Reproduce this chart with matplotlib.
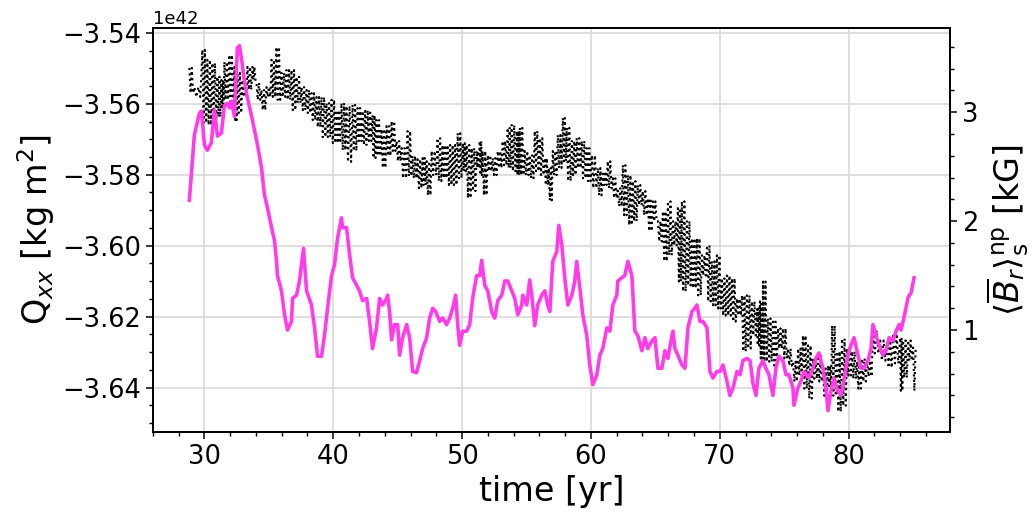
import numpy as np
import matplotlib
matplotlib.use("Agg")
import matplotlib.pyplot as plt
from matplotlib.ticker import MultipleLocator

# ---- magenta series: <B_r>_s^np [kG] vs time [yr] ----
b_t = [28.83, 29.22, 29.61, 29.77, 30.00, 30.23, 30.54, 30.78, 31.01, 31.32, 31.55, 31.79, 31.94, 32.10,
       32.33, 32.56, 32.72, 32.87, 33.11, 33.34, 33.65, 33.89, 34.12, 34.43, 34.66, 34.90, 35.21, 35.44,
       35.60, 35.67, 35.98, 36.22, 36.45, 36.76, 36.84, 37.15, 37.38, 37.69, 37.93, 38.31, 38.55, 38.78,
       39.09, 39.32, 39.56, 39.87, 40.10, 40.33, 40.49, 40.64, 40.72, 41.03, 41.27, 41.50, 41.81, 42.04,
       42.28, 42.59, 42.82, 43.05, 43.36, 43.60, 43.83, 44.14, 44.22, 44.37, 44.53, 44.76, 45.00, 45.15,
       45.38, 45.70, 45.93, 46.16, 46.47, 46.71, 46.94, 47.25, 47.48, 47.72, 47.95, 48.26, 48.49, 48.80,
       49.04, 49.27, 49.50, 49.66, 49.81, 50.05, 50.36, 50.59, 50.82, 51.13, 51.37, 51.52, 51.76, 51.99,
       52.30, 52.53, 52.77, 53.08, 53.31, 53.55, 53.86, 54.09, 54.32, 54.63, 54.71, 55.02, 55.25, 55.41,
       55.64, 55.87, 56.18, 56.42, 56.65, 56.81, 57.04, 57.35, 57.51, 57.74, 57.97, 58.21, 58.52, 58.75,
       58.90, 59.14, 59.37, 59.68, 59.91, 60.15, 60.46, 60.69, 60.92, 61.24, 61.47, 61.70, 62.01, 62.09,
       62.40, 62.63, 62.87, 63.18, 63.41, 63.64, 63.96, 64.19, 64.42, 64.73, 64.97, 65.20, 65.51, 65.74,
       65.98, 66.29, 66.37, 66.52, 66.75, 67.06, 67.30, 67.53, 67.84, 68.07, 68.23, 68.46, 68.69, 69.01,
       69.24, 69.47, 69.78, 70.02, 70.25, 70.56, 70.79, 71.03, 71.34, 71.57, 71.80, 72.11, 72.35, 72.58,
       72.81, 73.04, 73.35, 73.58, 73.82, 74.13, 74.36, 74.59, 74.90, 75.14, 75.37, 75.68, 75.76, 76.07,
       76.30, 76.53, 76.92, 77.23, 77.46, 77.70, 78.01, 78.24, 78.40, 78.63, 78.86, 79.17, 79.41, 79.64,
       79.95, 80.18, 80.42, 80.73, 80.96, 81.19, 81.51, 81.74, 81.89, 82.13, 82.36, 82.67, 82.91, 83.14,
       83.45, 83.68, 83.92, 84.07, 84.31, 84.62, 84.85, 85.08]
b_val = [2.19, 2.79, 2.99, 3.01, 2.70, 2.65, 2.72, 3.02, 2.78, 2.81, 3.06, 3.08, 3.04, 3.10,
         2.96, 3.59, 3.61, 3.50, 3.28, 3.13, 2.97, 2.83, 2.70, 2.49, 2.24, 2.12, 1.94, 1.82,
         1.63, 1.50, 1.36, 1.14, 1.00, 1.08, 1.29, 1.32, 1.45, 1.75, 1.36, 1.23, 1.02, 0.76,
         0.76, 0.95, 1.20, 1.50, 1.60, 1.84, 1.94, 2.03, 1.94, 1.94, 1.69, 1.48, 1.41, 1.36,
         1.27, 1.29, 1.08, 0.83, 1.02, 1.29, 1.23, 1.29, 1.32, 1.17, 0.91, 1.05, 1.05, 0.77,
         0.93, 1.05, 0.93, 0.62, 0.61, 0.72, 0.83, 0.93, 1.11, 1.20, 1.17, 1.08, 1.11, 1.05,
         1.11, 1.20, 1.32, 1.05, 0.86, 0.99, 0.99, 1.05, 1.29, 1.50, 1.50, 1.64, 1.41, 1.36,
         1.17, 1.11, 1.27, 1.32, 1.45, 1.45, 1.36, 1.29, 1.14, 1.23, 1.32, 1.23, 1.46, 1.32,
         1.04, 1.23, 1.32, 1.36, 1.23, 1.17, 1.63, 1.72, 1.96, 1.78, 1.48, 1.23, 1.32, 1.45,
         1.63, 1.39, 1.14, 0.95, 0.68, 0.50, 0.59, 0.77, 0.83, 1.02, 0.99, 1.23, 1.32, 1.45,
         1.48, 1.50, 1.63, 1.50, 0.99, 0.95, 0.81, 0.93, 0.83, 0.90, 0.93, 0.65, 0.65, 0.81,
         0.74, 0.95, 0.99, 0.83, 0.77, 0.68, 0.65, 1.02, 1.17, 1.20, 1.23, 1.08, 1.08, 1.02,
         0.62, 0.56, 0.62, 0.62, 0.68, 0.53, 0.40, 0.47, 0.62, 0.59, 0.72, 0.74, 0.72, 0.51,
         0.40, 0.65, 0.72, 0.65, 0.59, 0.40, 0.65, 0.76, 0.72, 0.59, 0.59, 0.47, 0.31, 0.47,
         0.53, 0.62, 0.56, 0.65, 0.74, 0.79, 0.65, 0.47, 0.26, 0.44, 0.56, 0.44, 0.40, 0.53,
         0.77, 0.86, 0.93, 0.77, 0.65, 0.65, 0.72, 0.83, 1.05, 0.95, 0.86, 0.77, 0.81, 0.93,
         0.90, 0.99, 1.05, 1.00, 1.12, 1.30, 1.34, 1.48]

# ---- black dotted series: Q_xx [1e42 kg m^2]; fast oscillation read as crest / trough per sample time ----
q_t = [28.83, 29.22, 29.84, 30.23, 30.62, 31.01, 31.32, 31.55, 31.94, 32.33, 32.56, 32.95, 33.34, 33.73,
       34.04, 34.43, 34.82, 35.21, 35.59, 35.98, 36.37, 36.76, 37.15, 37.54, 37.93, 38.31, 38.70, 39.09,
       39.48, 39.87, 40.26, 40.64, 41.03, 41.50, 41.89, 42.28, 42.67, 43.05, 43.36, 43.75, 44.14, 44.53,
       44.92, 45.31, 45.77, 46.16, 46.55, 46.94, 47.25, 47.64, 48.10, 48.49, 48.88, 49.27, 49.66, 50.05,
       50.36, 50.75, 51.13, 51.37, 51.60, 51.99, 52.38, 52.77, 53.15, 53.54, 53.85, 54.24, 54.48, 54.86,
       55.25, 55.64, 56.03, 56.42, 56.73, 57.04, 57.43, 57.82, 58.13, 58.52, 58.90, 59.29, 59.68, 60.07,
       60.54, 60.92, 61.31, 61.70, 62.09, 62.48, 62.87, 63.26, 63.64, 64.03, 64.42, 64.81, 65.20, 65.59,
       65.98, 66.37, 66.75, 67.06, 67.45, 67.84, 68.23, 68.62, 69.01, 69.39, 69.78, 70.17, 70.56, 70.95,
       71.34, 71.73, 72.11, 72.50, 72.89, 73.12, 73.36, 73.74, 74.13, 74.52, 74.91, 75.30, 75.69, 76.08,
       76.46, 76.85, 77.24, 77.63, 78.02, 78.41, 78.72, 79.11, 79.49, 79.88, 80.27, 80.66, 81.05, 81.44,
       81.90, 82.45, 82.99, 83.46, 84.00, 84.23, 84.62, 85.01]
q_hi = [-3.5499, -3.5553, -3.5448, -3.5476, -3.5485, -3.5524, -3.5533, -3.5482, -3.5462, -3.5496, -3.5513, -3.5533, -3.5496, -3.5496,
        -3.5541, -3.5561, -3.5553, -3.5476, -3.5440, -3.5513, -3.5505, -3.5505, -3.5524, -3.5553, -3.5561, -3.5570, -3.5581, -3.5581,
        -3.5598, -3.5589, -3.5618, -3.5598, -3.5606, -3.5603, -3.5612, -3.5620, -3.5618, -3.5632, -3.5646, -3.5671, -3.5663, -3.5649,
        -3.5705, -3.5725, -3.5677, -3.5747, -3.5756, -3.5753, -3.5762, -3.5733, -3.5697, -3.5716, -3.5716, -3.5716, -3.5683, -3.5711,
        -3.5716, -3.5725, -3.5733, -3.5705, -3.5733, -3.5745, -3.5753, -3.5733, -3.5705, -3.5668, -3.5660, -3.5677, -3.5668, -3.5733,
        -3.5745, -3.5677, -3.5697, -3.5753, -3.5781, -3.5733, -3.5688, -3.5640, -3.5668, -3.5705, -3.5697, -3.5705, -3.5725, -3.5745,
        -3.5781, -3.5790, -3.5762, -3.5810, -3.5838, -3.5773, -3.5801, -3.5818, -3.5829, -3.5846, -3.5866, -3.5875, -3.5931, -3.5903,
        -3.5875, -3.5931, -3.5894, -3.5875, -3.5931, -3.5979, -3.5979, -3.6027, -3.5999, -3.6044, -3.6027, -3.6092, -3.6084, -3.6092,
        -3.6149, -3.6140, -3.6140, -3.6157, -3.6177, -3.6157, -3.6101, -3.6205, -3.6214, -3.6233, -3.6233, -3.6290, -3.6327, -3.6290,
        -3.6253, -3.6281, -3.6318, -3.6310, -3.6346, -3.6338, -3.6225, -3.6298, -3.6262, -3.6290, -3.6298, -3.6327, -3.6318, -3.6324,
        -3.6239, -3.6267, -3.6267, -3.6248, -3.6259, -3.6267, -3.6267, -3.6287]
q_lo = [-3.5570, -3.5581, -3.5654, -3.5660, -3.5646, -3.5637, -3.5609, -3.5589, -3.5609, -3.5646, -3.5626, -3.5581, -3.5561, -3.5533,
        -3.5589, -3.5618, -3.5581, -3.5581, -3.5589, -3.5581, -3.5589, -3.5618, -3.5598, -3.5618, -3.5626, -3.5646, -3.5666, -3.5694,
        -3.5694, -3.5711, -3.5711, -3.5731, -3.5764, -3.5733, -3.5705, -3.5716, -3.5705, -3.5753, -3.5747, -3.5781, -3.5747, -3.5733,
        -3.5762, -3.5810, -3.5804, -3.5810, -3.5838, -3.5829, -3.5858, -3.5801, -3.5818, -3.5810, -3.5829, -3.5829, -3.5810, -3.5790,
        -3.5866, -3.5846, -3.5781, -3.5801, -3.5858, -3.5790, -3.5801, -3.5781, -3.5773, -3.5781, -3.5790, -3.5801, -3.5801, -3.5801,
        -3.5810, -3.5790, -3.5801, -3.5829, -3.5872, -3.5801, -3.5781, -3.5762, -3.5818, -3.5801, -3.5781, -3.5810, -3.5818, -3.5838,
        -3.5858, -3.5829, -3.5838, -3.5866, -3.5889, -3.5914, -3.5942, -3.5931, -3.5886, -3.5914, -3.5959, -3.5931, -3.5988, -3.6044,
        -3.6027, -3.5999, -3.6101, -3.6129, -3.6112, -3.6120, -3.6140, -3.6084, -3.6157, -3.6168, -3.6177, -3.6197, -3.6197, -3.6214,
        -3.6197, -3.6298, -3.6290, -3.6253, -3.6281, -3.6318, -3.6327, -3.6327, -3.6338, -3.6290, -3.6318, -3.6338, -3.6383, -3.6366,
        -3.6403, -3.6431, -3.6375, -3.6383, -3.6423, -3.6403, -3.6423, -3.6468, -3.6451, -3.6366, -3.6375, -3.6403, -3.6383, -3.6369,
        -3.6304, -3.6324, -3.6344, -3.6332, -3.6409, -3.6372, -3.6324, -3.6409]

x_major, x_minor = 10, 2
yl_major, yl_minor = 0.02e42, 0.005e42
yr_major, yr_minor = 1, 0.2
cycles_per_sample = 2   # oscillations drawn inside each sample interval

# crest/trough sequence: within each interval alternate crest and trough values
qt = np.asarray(q_t)
dt = np.append(np.diff(qt), np.diff(qt)[-1])
n = 2 * cycles_per_sample
xs, ys = [], []
for t0, d, hi, lo in zip(qt, dt, q_hi, q_lo):
    for k in range(n):
        xs.append(t0 + d * k / n)
        ys.append((hi if k % 2 == 0 else lo) * 1e42)
xs = np.asarray(xs); ys = np.asarray(ys)
keep = xs <= qt[-1] + 0.2
xs, ys = xs[keep], ys[keep]

fig = plt.figure(figsize=(10.33, 5.13), dpi=100)
ax = fig.add_axes([0.148, 0.158, 0.772, 0.787])
ax.grid(True, color='#d9d9d9', linewidth=1.2, zorder=0)
ax.set_axisbelow(True)
ax.plot(xs, ys, color='black', linestyle=':', linewidth=1.5)
ax.set_xlim(26.0, 87.9)
ax.set_ylim(-3.6525e42, -3.5387e42)
ax.xaxis.set_major_locator(MultipleLocator(x_major))
ax.xaxis.set_minor_locator(MultipleLocator(x_minor))
ax.yaxis.set_major_locator(MultipleLocator(yl_major))
ax.yaxis.set_minor_locator(MultipleLocator(yl_minor))
ax.tick_params(axis='both', which='major', labelsize=18.5, length=5, width=1.1)
ax.tick_params(axis='both', which='minor', length=3, width=1.0)
ax.yaxis.get_offset_text().set_fontsize(13)
ax.set_xlabel('time [yr]', fontsize=24)
ax.set_ylabel(r'Q$_{xx}$ [kg m$^2$]', fontsize=24)
for s in ax.spines.values():
    s.set_linewidth(1.3)

ax2 = ax.twinx()
ax2.plot(b_t, b_val, color='#ff3ce8', linewidth=2.6)
ax2.set_ylim(0.065, 3.77)
ax2.yaxis.set_major_locator(MultipleLocator(yr_major))
ax2.yaxis.set_minor_locator(MultipleLocator(yr_minor))
ax2.tick_params(axis='y', which='major', labelsize=18.5, length=5, width=1.1)
ax2.tick_params(axis='y', which='minor', length=3, width=1.0)
ax2.set_ylabel(r'$\langle \overline{B}_r \rangle_{\rm s}^{\rm np}$ [kG]', fontsize=24)
for s in ax2.spines.values():
    s.set_linewidth(1.3)

fig.savefig('out.png', dpi=100)
